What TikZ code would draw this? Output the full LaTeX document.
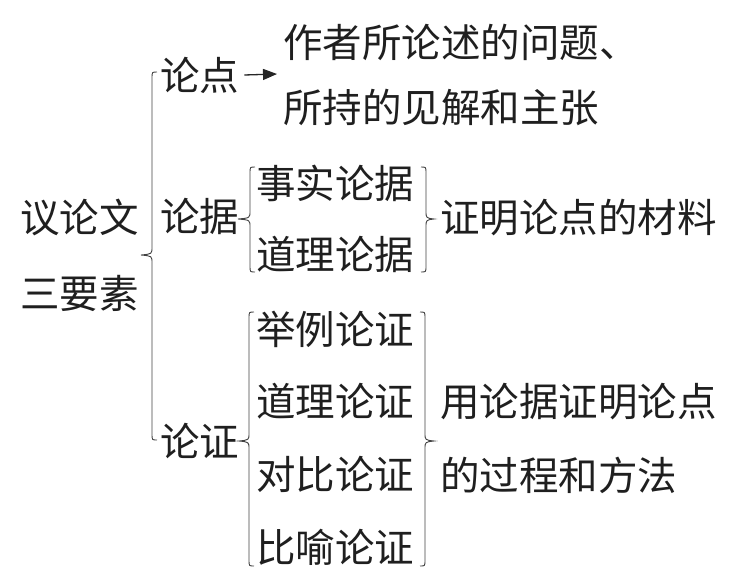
\documentclass[tikz,border=0pt]{standalone}
\usepackage{fontspec}
\newfontfamily\cjk{Noto Sans CJK SC}
\usetikzlibrary{arrows.meta}
\newcommand\bracel[5]{% x, top, bottom, mid, tipx
  \draw[brc] (#1+5,#2) .. controls (#1,#2) .. (#1,#2+6) -- (#1,#4-8) .. controls (#1,#4-1) .. (#5,#4) .. controls (#1,#4+1) .. (#1,#4+8) -- (#1,#3-6) .. controls (#1,#3) .. (#1+5,#3);}
\newcommand\bracer[5]{% x, top, bottom, mid, tipx
  \draw[brc] (#1-5,#2) .. controls (#1,#2) .. (#1,#2+6) -- (#1,#4-8) .. controls (#1,#4-1) .. (#5,#4) .. controls (#1,#4+1) .. (#1,#4+8) -- (#1,#3-6) .. controls (#1,#3) .. (#1-5,#3);}
\begin{document}
\begin{tikzpicture}[x=1pt,y=-1pt,
  txt/.style={anchor=west,inner sep=0pt,font=\cjk\fontsize{39.5pt}{46pt}\selectfont,text=black!88},
  brc/.style={draw=black!75,line width=0.9pt},
  arr/.style={draw=black!85,fill=black!85,line width=1.3pt,-{Triangle[length=14pt,width=11pt]}}]
\useasboundingbox (0,0) rectangle (741,581);
\node[txt] (yilun) at (20,217) {议论文};
\node[txt] (sanyao) at (20,293) {三要素};
\bracel{152}{72}{440}{255}{141}
\node[txt] (lundian) at (160,75) {论点};
\coordinate (arrend) at (277,74);
\draw[arr] ([xshift=5pt]lundian.east) -- (arrend);
\node[txt] (zuozhe) at (283,42) {作者所论述的问题、};
\node[txt] (suochi) at (283,108) {所持的见解和主张};
\node[txt] (lunju) at (160,216) {论据};
\bracel{250}{167}{272}{219}{238}
\node[txt] (shishi) at (256,183) {事实论据};
\node[txt] (daoli1) at (256,254) {道理论据};
\bracer{426}{167}{272}{219}{434}
\node[txt] (cailiao) at (440,218) {证明论点的材料};
\node[txt] (lunzheng) at (160,441) {论证};
\bracel{249}{312}{566}{441}{239}
\node[txt] (juli) at (256,329) {举例论证};
\node[txt] (daoli2) at (256,401) {道理论证};
\node[txt] (duibi) at (256,474) {对比论证};
\node[txt] (biyu) at (256,547) {比喻论证};
\bracer{425}{312}{566}{441}{434}
\node[txt] (yong) at (440,402) {用论据证明论点};
\node[txt] (guocheng) at (440,475) {的过程和方法};
\end{tikzpicture}
\end{document}
